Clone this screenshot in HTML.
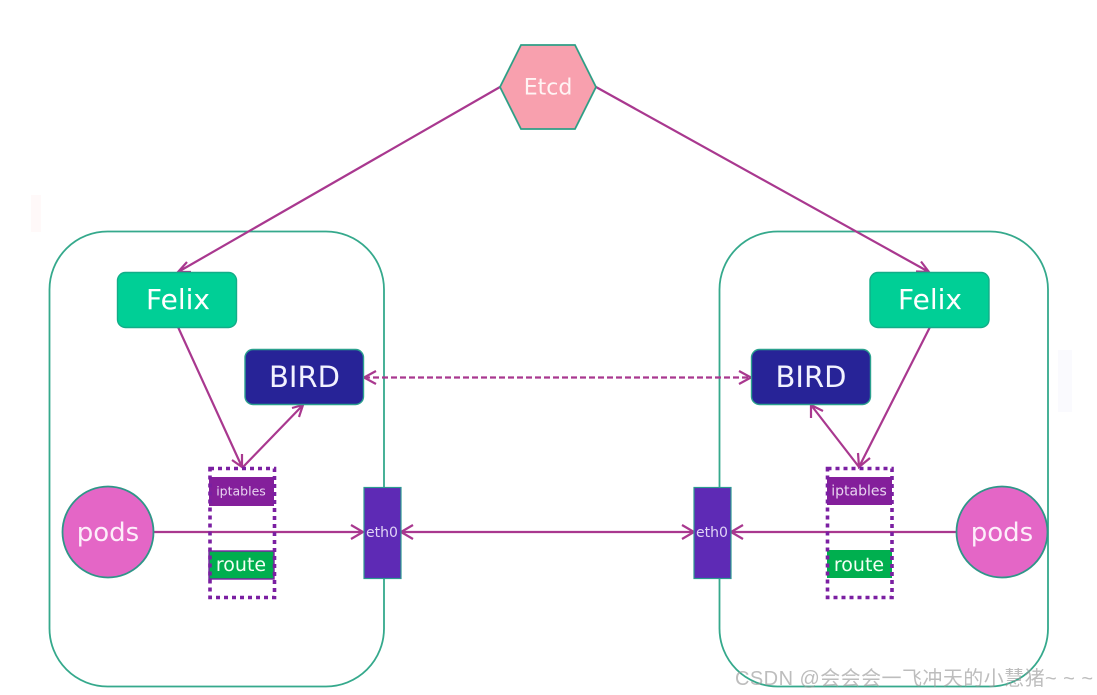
<!DOCTYPE html>
<html>
<head>
<meta charset="utf-8">
<style>
html,body{margin:0;padding:0;background:#fff;overflow:hidden;}
svg{display:block;filter:blur(0.35px);}
text{font-family:"DejaVu Sans",sans-serif;text-anchor:middle;}
.wm{font-family:"Liberation Sans","Noto Sans CJK SC",sans-serif;text-anchor:start;}
.l{stroke:#a9388f;stroke-width:2.2;fill:none;}
</style>
</head>
<body>
<svg width="1097" height="695" viewBox="0 0 1097 695" xmlns="http://www.w3.org/2000/svg">
<rect width="1097" height="695" fill="#fff"/>
<rect x="31" y="195" width="10" height="37" fill="#fff9f9"/>
<rect x="1058" y="350" width="14" height="62" fill="#fafafe"/>
<rect x="49.500" y="231.500" width="334.500" height="455" rx="58" fill="#fff" stroke="#35a98c" stroke-width="1.800"/>
<rect x="719.500" y="231.500" width="328.500" height="455" rx="58" fill="#fff" stroke="#35a98c" stroke-width="1.800"/>

<path class="l" d="M500 87L178 272M187 262L178 272L191 272"/>
<path class="l" d="M596 87L929 272M916 271.500L929 272L921 261.500"/>
<path class="l" d="M178 327L242 467M232 460L242 467L242 454"/>
<path class="l" d="M243 467L303 405M292 408L303 405L299 417"/>
<path class="l" d="M930 327L859 467M858 453L859 467L870 458"/>
<path class="l" d="M859 467L811 405M811 418L811 405L823 411"/>
<path class="l" stroke-dasharray="6 3" d="M364 377.500H751"/>
<path class="l" d="M376 371L364 377.500L376 384M739 371L751 377.500L739 384"/>
<path class="l" d="M154 532H363M351 525L363 532L351 539"/>
<path class="l" d="M401 532H694M413 525L401 532L413 539M682 525L694 532L682 539"/>
<path class="l" d="M957 532H731M743 525L731 532L743 539"/>

<polygon points="500,87 521,45 575,45 596,87 575,129 521,129" fill="#f8a0ae" stroke="#2f9f86" stroke-width="1.800"/>
<text x="548" y="94.500" font-size="22" fill="#fff4f4">Etcd</text>

<rect x="117.500" y="272.500" width="119" height="55" rx="8" fill="#00cf96" stroke="#12ad88" stroke-width="1.400"/>
<text x="178" y="309" font-size="28" fill="#fff">Felix</text>
<rect x="870" y="272.500" width="119" height="55" rx="8" fill="#00cf96" stroke="#12ad88" stroke-width="1.400"/>
<text x="930" y="309" font-size="28" fill="#fff">Felix</text>

<rect x="245" y="349.500" width="118.500" height="55" rx="8" fill="#272397" stroke="#2ba08e" stroke-width="1.400"/>
<text x="304.500" y="387" font-size="29" fill="#f2f2ff">BIRD</text>
<rect x="751.500" y="349.500" width="119" height="55" rx="8" fill="#272397" stroke="#2ba08e" stroke-width="1.400"/>
<text x="811" y="387" font-size="29" fill="#f2f2ff">BIRD</text>

<rect x="209" y="477" width="65" height="29" fill="#841f9b"/>
<text x="241" y="495.500" font-size="12.500" fill="#e8d4f0">iptables</text>
<rect x="209" y="551" width="65" height="28" fill="#00af4f" stroke="#7b1fa2" stroke-width="1.400"/>
<text x="241" y="571" font-size="19" fill="#f4fff4">route</text>
<rect x="210" y="468.500" width="64.500" height="129" fill="none" stroke="#7b1fa2" stroke-width="3.600" stroke-dasharray="4 4"/>

<rect x="827" y="477" width="65" height="28" fill="#841f9b"/>
<text x="859" y="495.500" font-size="14" fill="#e8d4f0">iptables</text>
<rect x="827" y="550" width="65" height="28" fill="#00af4f"/>
<text x="859" y="571" font-size="19" fill="#f4fff4">route</text>
<rect x="827.500" y="468.500" width="64.500" height="129" fill="none" stroke="#7b1fa2" stroke-width="3.600" stroke-dasharray="4 4"/>

<circle cx="108" cy="532" r="45.500" fill="#e466c6" stroke="#2f9688" stroke-width="1.800"/>
<text x="108" y="541" font-size="26" fill="#fdeefa">pods</text>
<circle cx="1002" cy="532" r="45.500" fill="#e466c6" stroke="#2f9688" stroke-width="1.800"/>
<text x="1002" y="541" font-size="26" fill="#fdeefa">pods</text>

<rect x="364" y="487.500" width="37" height="91" fill="#5e2ab5" stroke="#2b9a90" stroke-width="1.200"/>
<text x="382" y="537" font-size="14" fill="#e0d4f6">eth0</text>
<rect x="694" y="487.500" width="37" height="91" fill="#5e2ab5" stroke="#2b9a90" stroke-width="1.200"/>
<text x="712" y="537" font-size="14" fill="#e0d4f6">eth0</text>

<text class="wm" x="735" y="685" font-size="20" textLength="358" fill="#9a9a9a" fill-opacity="0.65">CSDN @会会会一飞冲天的小慧猪~ ~ ~</text>
</svg>
</body>
</html>
